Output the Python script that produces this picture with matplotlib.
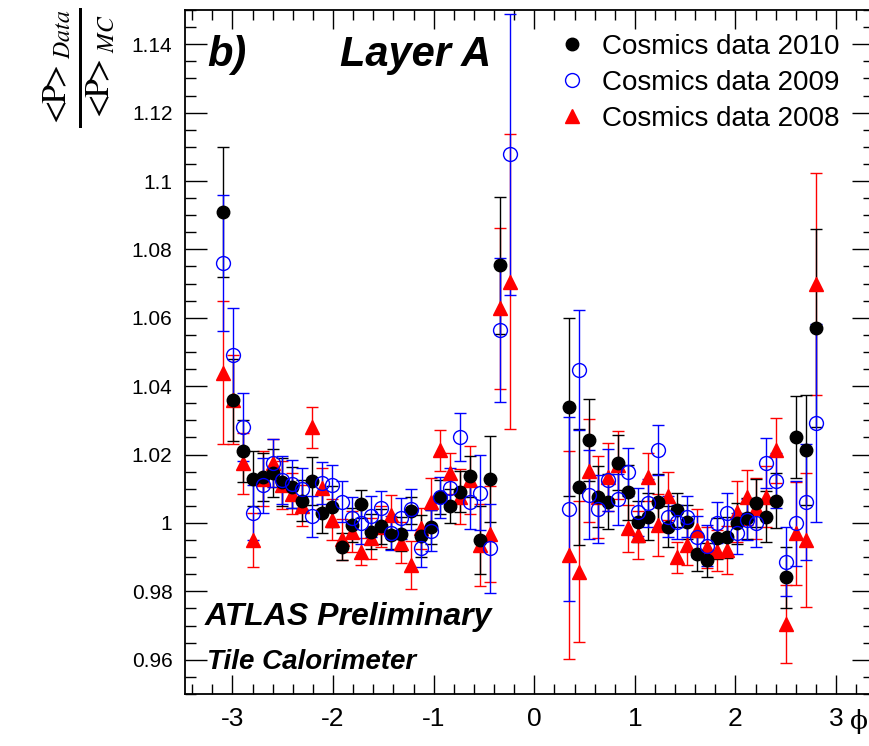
import numpy as np
import matplotlib
matplotlib.use("Agg")
import matplotlib.pyplot as plt
from matplotlib.lines import Line2D
from matplotlib.ticker import MultipleLocator, FuncFormatter

# TileCal phi modules (64 in total); only those with data are listed
modules = [0, 1, 2, 3, 4, 5, 6, 7, 8, 9, 10, 11, 12, 13, 14, 15, 16, 17, 18, 19, 20,
           21, 22, 23, 24, 25, 26, 27, 28, 29,
           35, 36, 37, 38, 39, 40, 41, 42, 43, 44, 45, 46, 47, 48, 49, 50,
           51, 52, 53, 54, 55, 56, 57, 58, 59, 60]

ratio_2010 = [1.091, 1.036, 1.021, 1.013, 1.0135, 1.0147, 1.012, 1.0105, 1.0065, 1.0123,
              1.003, 1.0048, 0.9931, 0.9994, 1.0056, 0.9975, 0.999, 0.9965, 0.9968, 1.0036,
              0.9962, 0.9989, 1.0077, 1.005, 1.0092, 1.0136, 0.995, 1.0128, 1.0754, np.nan,
              1.0338, 1.0106, 1.0243, 1.0077, 1.0062, 1.0176, 1.009, 1.0004, 1.0019, 1.0062,
              0.9989, 1.0038, 1.0004, 0.9909, 0.9892, 0.9955,
              0.9958, 0.9999, 1.0014, 1.0058, 1.0019, 1.0065, 0.9841, 1.0251, 1.0213, 1.0571]
err_2010 = [0.019, 0.012, 0.009, 0.008, 0.007, 0.007, 0.007, 0.006, 0.006, 0.007,
            0.006, 0.006, 0.004, 0.005, 0.004, 0.005, 0.005, 0.004, 0.005, 0.004,
            0.006, 0.005, 0.005, 0.005, 0.006, 0.006, 0.010, 0.0125, 0.020, np.nan,
            0.026, 0.017, 0.012, 0.009, 0.008, 0.008, 0.008, 0.006, 0.007, 0.008,
            0.006, 0.005, 0.005, 0.005, 0.005, 0.006,
            0.006, 0.006, 0.006, 0.007, 0.0075, 0.008, 0.009, 0.012, 0.016, 0.029]

ratio_2009 = [1.076, 1.049, 1.028, 1.003, 1.011, 1.0175, 1.0125, 1.0115, 1.010, 1.002,
              1.0117, 1.011, 1.0062, 1.0015, 1.0, 1.002, 1.0045, 0.997, 1.0014, 1.004,
              0.9926, 0.9978, 1.0075, 1.0101, 1.0251, 1.0062, 1.0089, 0.9926, 1.0564, 1.1078,
              1.0041, 1.0447, 1.0082, 1.0041, 1.0126, 1.0069, 1.015, 1.0031, 1.0058, 1.0213,
              1.0019, 1.0004, 1.0019, 0.996, 0.9933, 1.0001,
              1.0028, 0.997, 1.0009, 0.9999, 1.0175, 1.0124, 0.9887, 0.9999, 1.0062, 1.0293]
err_2009 = [0.020, 0.014, 0.010, 0.008, 0.008, 0.007, 0.007, 0.007, 0.006, 0.006,
            0.006, 0.006, 0.006, 0.006, 0.006, 0.006, 0.005, 0.005, 0.006, 0.006,
            0.0055, 0.006, 0.006, 0.006, 0.007, 0.008, 0.011, 0.013, 0.021, 0.041,
            0.027, 0.0175, 0.013, 0.010, 0.009, 0.0075, 0.007, 0.007, 0.007, 0.0074,
            0.006, 0.005, 0.006, 0.006, 0.006, 0.006,
            0.006, 0.006, 0.006, 0.007, 0.0073, 0.008, 0.010, 0.0125, 0.017, 0.029]

ratio_2008 = [1.044, 1.036, 1.0174, 0.9950, 1.0130, 1.0175, 1.011, 1.0085, 1.005, 1.028,
              1.0102, 1.001, 0.9953, 0.9975, 0.9916, 0.9956, 0.9989, 1.0023, 0.9942, 0.9877,
              0.9985, 1.0062, 1.0213, 1.0145, 1.0077, 1.0126, 0.9936, 0.9968, 1.0628, 1.0706,
              0.9906, 0.9858, 1.0153, 1.0077, 1.0135, 1.017, 0.9984, 0.9965, 1.0135, 0.9994,
              1.0079, 0.990, 0.9936, 0.998, 0.9929, 0.9919,
              0.9921, 1.0033, 1.0075, 1.0043, 1.0077, 1.0213, 0.9705, 0.997, 0.995, 1.0698]
err_2008 = [0.021, 0.013, 0.009, 0.008, 0.008, 0.007, 0.007, 0.006, 0.006, 0.006,
            0.006, 0.006, 0.006, 0.006, 0.004, 0.006, 0.006, 0.006, 0.006, 0.007,
            0.006, 0.007, 0.006, 0.006, 0.008, 0.010, 0.012, 0.014, 0.0235, 0.043,
            0.0305, 0.0205, 0.015, 0.012, 0.010, 0.010, 0.007, 0.007, 0.007, 0.009,
            0.007, 0.0045, 0.006, 0.006, 0.006, 0.006,
            0.007, 0.009, 0.008, 0.009, 0.009, 0.0095, 0.0115, 0.015, 0.0195, 0.0325]

labels = ["Cosmics data 2010", "Cosmics data 2009", "Cosmics data 2008"]

plt.rcParams["font.family"] = ["Liberation Sans", "DejaVu Sans"]
plt.rcParams["mathtext.fontset"] = "stix"
plt.rcParams["axes.unicode_minus"] = False

phi = -np.pi + (np.array(modules) + 0.5) * 2 * np.pi / 64

fig = plt.figure(figsize=(8.7, 7.46), dpi=100)
ax = fig.add_axes([185 / 870, 52 / 746, 689 / 870, 684 / 746])

ekw = dict(linestyle="none", elinewidth=1.0, capsize=4.5, capthick=1.0)
ax.errorbar(phi, ratio_2008, yerr=err_2008, marker="^", ms=10, color="red",
            ecolor="red", mec="red", mfc="red", **ekw)
ax.errorbar(phi, ratio_2010, yerr=err_2010, marker="o", ms=9, color="black",
            ecolor="black", mfc="black", mec="black", **ekw)
ax.errorbar(phi, ratio_2009, yerr=err_2009, marker="o", ms=10, color="blue",
            ecolor="blue", mfc="none", mec="blue", mew=1.0, **ekw)

ax.set_xlim(-3.472, 3.377)
ax.set_ylim(0.95, 1.15)

ax.xaxis.set_major_locator(MultipleLocator(1))
ax.xaxis.set_minor_locator(MultipleLocator(0.2))
ax.yaxis.set_major_locator(MultipleLocator(0.02))
ax.yaxis.set_minor_locator(MultipleLocator(0.005))
ax.yaxis.set_major_formatter(FuncFormatter(lambda v, p: "%g" % round(v, 4)))
ax.xaxis.set_major_formatter(FuncFormatter(lambda v, p: "%g" % round(v, 4)))
ax.tick_params(which="both", direction="in", top=True, right=True, width=1.0)
ax.tick_params(axis="y", which="major", length=16, pad=9, labelsize=15)
ax.tick_params(axis="y", which="minor", length=8)
ax.tick_params(axis="x", which="major", length=14, pad=9, labelsize=19)
ax.tick_params(axis="x", which="minor", length=7)
for s in ax.spines.values():
    s.set_linewidth(1.3)

# axis titles
fig.text(79 / 870, 1 - 68 / 746,
         r"$\frac{<\!\!\mathrm{P}\!\!>_{\mathit{Data}}}{<\!\!\mathrm{P}\!\!>_{\mathit{MC}}}$",
         rotation=90, fontsize=35, ha="center", va="center")
fig.text(868 / 870, 1 - 722 / 746, "\u03d5", fontsize=19, family="DejaVu Serif",
         ha="right", va="center")

# annotations
ax.text(0.032, 0.934, "b)", transform=ax.transAxes, fontsize=30,
        fontweight="bold", fontstyle="italic", va="center")
ax.text(0.225, 0.934, "Layer A", transform=ax.transAxes, fontsize=30,
        fontweight="bold", fontstyle="italic", va="center")
ax.text(0.028, 0.113, "ATLAS Preliminary", transform=ax.transAxes, fontsize=23,
        fontweight="bold", fontstyle="italic", va="center")
ax.text(0.032, 0.047, "Tile Calorimeter", transform=ax.transAxes, fontsize=20,
        fontweight="bold", fontstyle="italic", va="center")

handles = [
    Line2D([], [], linestyle="none", marker="o", ms=9, color="black"),
    Line2D([], [], linestyle="none", marker="o", ms=10, mfc="none", mec="blue", mew=1.0),
    Line2D([], [], linestyle="none", marker="^", ms=10, color="red"),
]
fig.legend(handles, labels, loc="upper left", bbox_to_anchor=(558 / 870, 1 - 34 / 746),
           frameon=False, fontsize=20, handlelength=1.0, handletextpad=0.6,
           labelspacing=0.36, borderpad=0, borderaxespad=0)

fig.savefig("out.png", dpi=100)
